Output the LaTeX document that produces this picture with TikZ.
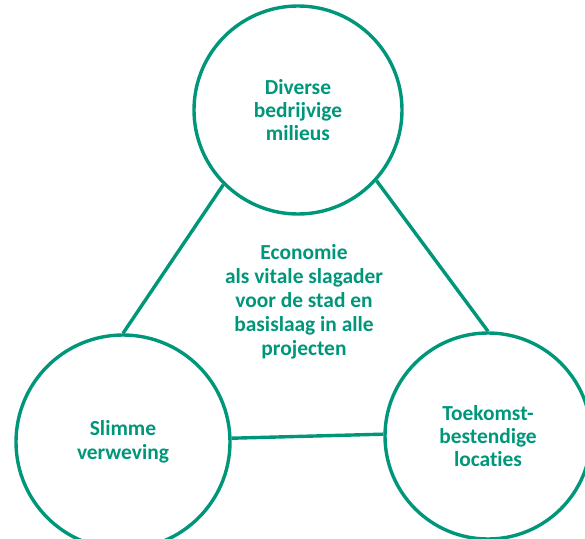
\documentclass[tikz,border=0pt]{standalone}
\usepackage{fontspec}
\setmainfont{Carlito}[Ligatures=NoCommon]
\definecolor{teal1}{RGB}{0,150,122}
\begin{document}
\begin{tikzpicture}[x=1bp,y=-1bp,
  ring/.style={circle, draw=teal1, line width=3.4bp, inner sep=0pt, align=center,
    text=teal1, font=\fontsize{21.5}{23.5}\selectfont\bfseries},
  link/.style={draw=teal1, line width=3.4bp},
  core/.style={align=center, text=teal1, font=\fontsize{21.5}{24}\selectfont\bfseries}]
  \useasboundingbox (0,0) rectangle (585,539);
  \node[ring, minimum size=208bp] (top) at (298,110) {Diverse\\bedrijvige\\milieus};
  \node[ring, minimum size=214bp] (left) at (123,442) {Slimme\\verweving};
  \node[ring, minimum size=206bp] (right) at (488,436) {Toekomst-\\bestendige\\locaties};
  \node[core] (mid) at (304,302) {Economie\\als vitale slagader\\voor de stad en\\basislaag in alle\\projecten};
  \draw[link] (top.225) -- (left.north);
  \draw[link] (top.-42) -- (right.north);
  \draw[link] (left.2) -- (right.179);
\end{tikzpicture}
\end{document}
